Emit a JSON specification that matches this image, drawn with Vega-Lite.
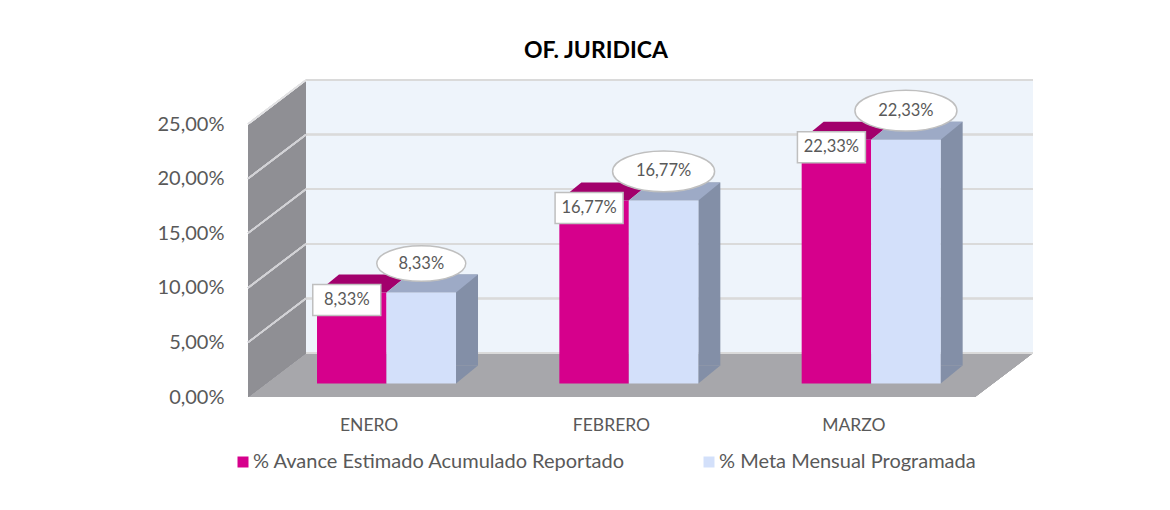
{
  "$schema": "https://vega.github.io/schema/vega-lite/v6.json",
  "width": 785,
  "height": 317,
  "autosize": {"type": "none"},
  "padding": {"left": 248, "top": 80, "right": 137, "bottom": 113},
  "background": "white",
  "title": {"text": "OF. JURIDICA", "font": "Lato", "fontSize": 23, "fontWeight": "bold", "color": "#000000", "anchor": "middle", "dx": -44.5, "offset": 16},
  "config": {
    "locale": {"number": {"decimal": ",", "thousands": ".", "grouping": [3], "currency": ["", " €"]}},
    "view": {"stroke": null},
    "font": "Lato"
  },
  "resolve": {"scale": {"size": "independent"}},
  "data": {"values": [
    {"mes": "ENERO", "serie": "% Avance Estimado Acumulado Reportado", "valor": 0.0833},
    {"mes": "ENERO", "serie": "% Meta Mensual Programada", "valor": 0.0833},
    {"mes": "FEBRERO", "serie": "% Avance Estimado Acumulado Reportado", "valor": 0.1677},
    {"mes": "FEBRERO", "serie": "% Meta Mensual Programada", "valor": 0.1677},
    {"mes": "MARZO", "serie": "% Avance Estimado Acumulado Reportado", "valor": 0.2233},
    {"mes": "MARZO", "serie": "% Meta Mensual Programada", "valor": 0.2233}
  ]},
  "layer": [
    {"mark": {"type": "point", "shape": "M58,-44L785,-44L785,-317L58,-317Z", "size": 4, "filled": true, "opacity": 1, "strokeWidth": 0, "color": "#EEF4FB"},
     "encoding": {"x": {"datum": "ENERO", "type": "nominal", "bandPosition": 0}, "y": {"datum": 0, "type": "quantitative"}}},
    {"mark": {"type": "point", "shape": "M0,0L727,0L785,-44L58,-44Z", "size": 4, "filled": true, "opacity": 1, "strokeWidth": 0, "color": "#A7A7AB"},
     "encoding": {"x": {"datum": "ENERO", "type": "nominal", "bandPosition": 0}, "y": {"datum": 0, "type": "quantitative"}}},
    {"mark": {"type": "point", "shape": "M0,0L0,-273L58,-317L58,-44Z", "size": 4, "filled": true, "opacity": 1, "strokeWidth": 0, "color": "#8F8F94"},
     "encoding": {"x": {"datum": "ENERO", "type": "nominal", "bandPosition": 0}, "y": {"datum": 0, "type": "quantitative"}}},
    {"mark": {"type": "rule", "color": "#DADADA", "strokeWidth": 1.5, "xOffset": 58, "x2Offset": 58, "yOffset": -44},
     "encoding": {"x": {"datum": "ENERO", "type": "nominal", "bandPosition": 0}, "x2": {"datum": "MARZO", "bandPosition": 1}, "y": {"datum": 0, "type": "quantitative"}}},
    {"mark": {"type": "rule", "color": "#DADADA", "strokeWidth": 1.5, "xOffset": 58, "x2Offset": 58, "yOffset": -44},
     "encoding": {"x": {"datum": "ENERO", "type": "nominal", "bandPosition": 0}, "x2": {"datum": "MARZO", "bandPosition": 1}, "y": {"datum": 0.05, "type": "quantitative"}}},
    {"mark": {"type": "rule", "color": "#DADADA", "strokeWidth": 1.5, "xOffset": 58, "x2Offset": 58, "yOffset": -44},
     "encoding": {"x": {"datum": "ENERO", "type": "nominal", "bandPosition": 0}, "x2": {"datum": "MARZO", "bandPosition": 1}, "y": {"datum": 0.1, "type": "quantitative"}}},
    {"mark": {"type": "rule", "color": "#DADADA", "strokeWidth": 1.5, "xOffset": 58, "x2Offset": 58, "yOffset": -44},
     "encoding": {"x": {"datum": "ENERO", "type": "nominal", "bandPosition": 0}, "x2": {"datum": "MARZO", "bandPosition": 1}, "y": {"datum": 0.15, "type": "quantitative"}}},
    {"mark": {"type": "rule", "color": "#DADADA", "strokeWidth": 1.5, "xOffset": 58, "x2Offset": 58, "yOffset": -44},
     "encoding": {"x": {"datum": "ENERO", "type": "nominal", "bandPosition": 0}, "x2": {"datum": "MARZO", "bandPosition": 1}, "y": {"datum": 0.2, "type": "quantitative"}}},
    {"mark": {"type": "rule", "color": "#DADADA", "strokeWidth": 1.5, "xOffset": 58, "x2Offset": 58, "yOffset": -44},
     "encoding": {"x": {"datum": "ENERO", "type": "nominal", "bandPosition": 0}, "x2": {"datum": "MARZO", "bandPosition": 1}, "y": {"datum": 0.25, "type": "quantitative"}}},
    {"mark": {"type": "rule", "color": "#D2D2D6", "strokeWidth": 1.5, "x2Offset": 58, "y2Offset": -44},
     "encoding": {"x": {"datum": "ENERO", "type": "nominal", "bandPosition": 0}, "x2": {"datum": "ENERO", "bandPosition": 0}, "y": {"datum": 0.05, "type": "quantitative"}, "y2": {"datum": 0.05}}},
    {"mark": {"type": "rule", "color": "#D2D2D6", "strokeWidth": 1.5, "x2Offset": 58, "y2Offset": -44},
     "encoding": {"x": {"datum": "ENERO", "type": "nominal", "bandPosition": 0}, "x2": {"datum": "ENERO", "bandPosition": 0}, "y": {"datum": 0.1, "type": "quantitative"}, "y2": {"datum": 0.1}}},
    {"mark": {"type": "rule", "color": "#D2D2D6", "strokeWidth": 1.5, "x2Offset": 58, "y2Offset": -44},
     "encoding": {"x": {"datum": "ENERO", "type": "nominal", "bandPosition": 0}, "x2": {"datum": "ENERO", "bandPosition": 0}, "y": {"datum": 0.15, "type": "quantitative"}, "y2": {"datum": 0.15}}},
    {"mark": {"type": "rule", "color": "#D2D2D6", "strokeWidth": 1.5, "x2Offset": 58, "y2Offset": -44},
     "encoding": {"x": {"datum": "ENERO", "type": "nominal", "bandPosition": 0}, "x2": {"datum": "ENERO", "bandPosition": 0}, "y": {"datum": 0.2, "type": "quantitative"}, "y2": {"datum": 0.2}}},
    {"mark": {"type": "rule", "color": "#E2E2E4", "strokeWidth": 1.5, "x2Offset": 58, "y2Offset": -44},
     "encoding": {"x": {"datum": "ENERO", "type": "nominal", "bandPosition": 0}, "x2": {"datum": "ENERO", "bandPosition": 0}, "y": {"datum": 0.25, "type": "quantitative"}, "y2": {"datum": 0.25}}},
    {"transform": [{"filter": {"field": "serie", "equal": "% Meta Mensual Programada"}}],
     "mark": {"type": "bar", "width": 22, "xOffset": 97.85, "yOffset": -31.5, "y2Offset": -31.5, "color": "#838FA7"},
     "encoding": {"x": {"field": "mes", "type": "nominal"}, "y": {"field": "valor", "type": "quantitative"}, "y2": {"datum": 0}}},
    {"transform": [{"filter": {"field": "serie", "equal": "% Meta Mensual Programada"}}],
     "mark": {"type": "point", "shape": "M34.75,-18L34.75,0L56.75,-18Z", "size": 4, "filled": true, "opacity": 1, "strokeWidth": 0, "color": "#838FA7", "xOffset": 52.1, "yOffset": -13.5},
     "encoding": {"x": {"field": "mes", "type": "nominal"}, "y": {"datum": 0, "type": "quantitative"}}},
    {"transform": [{"filter": {"field": "serie", "equal": "% Avance Estimado Acumulado Reportado"}}],
     "mark": {"type": "bar", "width": 69.5, "xOffset": -17.4, "yOffset": -13.5, "y2Offset": -13.5},
     "encoding": {
       "x": {"field": "mes", "type": "nominal", "scale": {"domain": ["ENERO", "FEBRERO", "MARZO"], "paddingInner": 0, "paddingOuter": 0.1197, "align": 0},
             "axis": {"domain": false, "ticks": false, "grid": false, "labelPadding": 28, "labelFontSize": 17.5, "labelColor": "#595959", "labelFont": "Lato", "title": null, "labelAngle": 0, "labelAlign": "center"}},
       "y": {"field": "valor", "type": "quantitative", "scale": {"domain": [0, 0.2903], "nice": false, "zero": true},
             "axis": {"values": [0, 0.05, 0.1, 0.15, 0.2, 0.25], "format": ".2%", "domain": false, "ticks": false, "grid": false, "labelPadding": 24, "labelFontSize": 20, "labelColor": "#595959", "labelFont": "Lato", "title": null}},
       "y2": {"datum": 0},
       "color": {"field": "serie", "type": "nominal", "scale": {"domain": ["% Avance Estimado Acumulado Reportado", "% Meta Mensual Programada"], "range": ["#D6008C", "#D3E0FA"]},
                 "legend": {"orient": "none", "legendX": -15, "legendY": 372, "direction": "horizontal", "title": null, "symbolType": "square", "symbolSize": 121, "symbolStrokeWidth": 0, "labelFontSize": 20, "labelFont": "Lato", "labelColor": "#595959", "labelLimit": 1000, "columnPadding": 73, "labelOffset": 0}}
     }},
    {"transform": [{"filter": {"field": "serie", "equal": "% Meta Mensual Programada"}}],
     "mark": {"type": "bar", "width": 69.5, "xOffset": 52.1, "yOffset": -13.5, "y2Offset": -13.5},
     "encoding": {"x": {"field": "mes", "type": "nominal"}, "y": {"field": "valor", "type": "quantitative"}, "y2": {"datum": 0},
                  "color": {"field": "serie", "type": "nominal"}}},
    {"transform": [{"filter": {"field": "serie", "equal": "% Avance Estimado Acumulado Reportado"}}],
     "mark": {"type": "point", "shape": "M-34.75,0L34.75,0L56.75,-18L-12.75,-18Z", "size": 4, "filled": true, "opacity": 1, "strokeWidth": 0, "color": "#A2006C", "xOffset": -17.4, "yOffset": -13.5},
     "encoding": {"x": {"field": "mes", "type": "nominal"}, "y": {"field": "valor", "type": "quantitative"}}},
    {"transform": [{"filter": {"field": "serie", "equal": "% Meta Mensual Programada"}}],
     "mark": {"type": "point", "shape": "M-34.75,0L34.75,0L56.75,-18L-12.75,-18Z", "size": 4, "filled": true, "opacity": 1, "strokeWidth": 0, "color": "#9DAAC6", "xOffset": 52.1, "yOffset": -13.5},
     "encoding": {"x": {"field": "mes", "type": "nominal"}, "y": {"field": "valor", "type": "quantitative"}}},
    {"transform": [{"filter": {"field": "serie", "equal": "% Avance Estimado Acumulado Reportado"}}],
     "mark": {"type": "point", "shape": "M-34,-15.5L34,-15.5L34,15.5L-34,15.5Z", "size": 4, "filled": true, "opacity": 1, "fill": "white", "stroke": "#BFBFBF", "strokeWidth": 1.5, "xOffset": -22.4, "yOffset": -6},
     "encoding": {"x": {"field": "mes", "type": "nominal"}, "y": {"field": "valor", "type": "quantitative"}}},
    {"transform": [{"filter": {"field": "serie", "equal": "% Avance Estimado Acumulado Reportado"}}],
     "mark": {"type": "text", "font": "Lato", "fontSize": 16.5, "color": "#595959", "align": "center", "baseline": "middle", "xOffset": -22.4, "yOffset": -6},
     "encoding": {"x": {"field": "mes", "type": "nominal"}, "y": {"field": "valor", "type": "quantitative"}, "text": {"field": "valor", "type": "quantitative", "format": ".2%"}}},
    {"transform": [{"filter": {"field": "serie", "equal": "% Meta Mensual Programada"}}],
     "mark": {"type": "point", "shape": "M-1,0A1,0.4,0,1,1,1,0A1,0.4,0,1,1,-1,0Z", "filled": true, "opacity": 1, "fill": "white", "stroke": "#BFBFBF", "strokeWidth": 1.5, "xOffset": 52.1, "yOffset": -42.5},
     "encoding": {"x": {"field": "mes", "type": "nominal"}, "y": {"field": "valor", "type": "quantitative"},
                  "size": {"field": "valor", "type": "quantitative", "scale": {"type": "threshold", "domain": [0.1], "range": [7921, 10404]}, "legend": null}}},
    {"transform": [{"filter": {"field": "serie", "equal": "% Meta Mensual Programada"}}],
     "mark": {"type": "text", "font": "Lato", "fontSize": 16.5, "color": "#595959", "align": "center", "baseline": "middle", "xOffset": 52.1, "yOffset": -42.5},
     "encoding": {"x": {"field": "mes", "type": "nominal"}, "y": {"field": "valor", "type": "quantitative"}, "text": {"field": "valor", "type": "quantitative", "format": ".2%"}}}
  ]
}
